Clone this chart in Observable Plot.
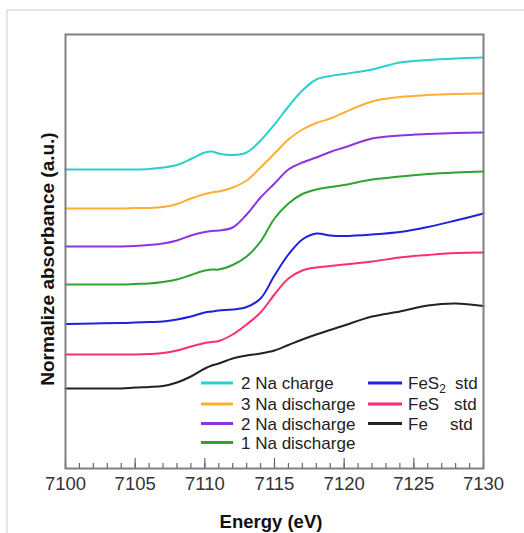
<!DOCTYPE html>
<html>
<head>
<meta charset="utf-8">
<script src="https://cdn.jsdelivr.net/npm/d3@7"></script>
<script src="https://cdn.jsdelivr.net/npm/@observablehq/plot@0.6"></script>
<style>
  html, body { margin: 0; padding: 0; background: #fff; }
</style>
</head>
<body>
<div id="chart"></div>
<script>
// Energy grid (eV)
const energy = [7100,7102,7104,7105,7106,7107,7108,7109,7110,7110.5,7111,7112,7113,7114,7115,7116,7117,7118,7119,7120,7122,7124,7126,7128,7130];

// Normalized absorbance (a.u., stacked with offsets as in the figure)
const naCharge2    = [299,299,299,299,299.5,301,303.5,309.5,316,317,315,313.5,316,328,344,362,378,389,392.5,394.5,399,406,408.5,410,411];
const naDischarge3 = [260,260,260,260.5,260.5,261.5,264.5,270,274.5,276,277,281,288,301,315,329,339,345.5,350,356,367,371.5,373.5,374.5,375];
const naDischarge2 = [222,222,222,222.5,223.5,225,228,233,236.5,237.5,238,241,254,271,285,299,306,311,316.5,321,330,333,334.5,335.5,336];
const naDischarge1 = [184,184,184,184.5,185,186.5,189,193.5,198,199,199,203.5,212,227,250,265,274.5,279,281.5,283.5,289,292,294.5,296,297];
const fes2Std      = [144.5,145,145.5,146,146.5,147,149,152,156,157,158,159,161.5,170,193,214,229,235,233,232.5,234,236.5,241.5,248,255];
const fesStd       = [114,114,114,114,114.5,115.5,118,122,125.5,126.5,127.5,134,144,156,174,190,198,201,202.5,204,207,211,213.5,215.5,216];
const feStd        = [80,80,80,81,81.5,82.5,86,92,100,103,105,110,113,115,118,123.5,129,134,138.5,143,152,157,163,165,162.5];

const seriesNames  = ["2 Na charge","3 Na discharge","2 Na discharge","1 Na discharge","FeS2 std","FeS std","Fe std"];
const seriesValues = [naCharge2, naDischarge3, naDischarge2, naDischarge1, fes2Std, fesStd, feStd];
const seriesColors = ["#2ccfcf","#ffae35","#8a35e0","#2ea32e","#2020dd","#ff2d6f","#222222"];

const majorTicks = [7100,7105,7110,7115,7120,7125,7130];
const minorTicks = d3.range(7100, 7131, 1);

const rows = [];
seriesNames.forEach((name, i) => {
  seriesValues[i].forEach((v, j) => rows.push({series: name, energy: energy[j], value: v}));
});

const font = "'Liberation Sans', Arial, Helvetica, sans-serif";

const chart = Plot.plot({
  width: 524,
  height: 533,
  marginLeft: 65,
  marginRight: 41,
  marginTop: 34,
  marginBottom: 65,
  style: {fontFamily: font, background: "#fff", overflow: "visible"},
  x: {domain: [7100, 7130]},
  y: {domain: [0, 434], axis: null},
  color: {domain: seriesNames, range: seriesColors},
  marks: [
    Plot.line(rows, {x: "energy", y: "value", z: "series", stroke: "series", strokeWidth: 2, curve: "catmull-rom"}),
    Plot.axisX({ticks: minorTicks, tickSize: -5, tickFormat: () => "", label: null, stroke: "#666", strokeWidth: 1.2}),
    Plot.axisX({ticks: majorTicks, tickSize: -10, tickFormat: () => "", label: null, stroke: "#666", strokeWidth: 1.2}),
    Plot.axisX({ticks: majorTicks, tickSize: 0, tickPadding: 8, tickFormat: d => String(d), label: null, fontSize: 18.5, fill: "#333"}),
    Plot.frame({stroke: "#808080", strokeWidth: 2})
  ]
});

const svg = d3.select(chart);

// light outer figure border
svg.insert("rect", ":first-child")
  .attr("x", 7).attr("y", 10).attr("width", 540).attr("height", 540)
  .attr("fill", "none").attr("stroke", "#dddddd").attr("stroke-width", 1.5);

// axis titles
svg.append("text").attr("x", 271).attr("y", 521).attr("dy", "0.36em")
  .attr("text-anchor", "middle").attr("font-family", font).attr("font-size", 18.5)
  .attr("font-weight", "bold").attr("fill", "#111").text("Energy (eV)");
svg.append("text").attr("transform", "translate(47,259) rotate(-90)").attr("dy", "0.36em")
  .attr("text-anchor", "middle").attr("font-family", font).attr("font-size", 19)
  .attr("font-weight", "bold").attr("fill", "#111").text("Normalize absorbance (a.u.)");

// Legend
const legend = svg.append("g").attr("font-family", font).attr("font-size", 17)
  .attr("fill", "#222").attr("text-anchor", "start");
const col1 = [0,1,2,3], col2 = [4,5,6];
const rowY = [383, 404, 423.5, 442.5];
col1.forEach((si, r) => {
  legend.append("line").attr("x1", 201).attr("x2", 233).attr("y1", rowY[r]).attr("y2", rowY[r])
    .attr("stroke", seriesColors[si]).attr("stroke-width", 3);
  legend.append("text").attr("x", 241).attr("y", rowY[r]).attr("dy", "0.36em").text(seriesNames[si]);
});
const col2Labels = [["FeS", "2"], ["FeS", null], ["Fe", null]];
const stdX = [455, 454, 450];
col2.forEach((si, r) => {
  legend.append("line").attr("x1", 368).attr("x2", 402).attr("y1", rowY[r]).attr("y2", rowY[r])
    .attr("stroke", seriesColors[si]).attr("stroke-width", 3);
  const t = legend.append("text").attr("x", 408).attr("y", rowY[r]).attr("dy", "0.36em");
  t.append("tspan").text(col2Labels[r][0]);
  if (col2Labels[r][1]) t.append("tspan").attr("font-size", 12).attr("dy", "0.35em").text(col2Labels[r][1]);
  legend.append("text").attr("x", stdX[r]).attr("y", rowY[r]).attr("dy", "0.36em").text("std");
});

document.getElementById("chart").appendChild(chart);
</script>
</body>
</html>
